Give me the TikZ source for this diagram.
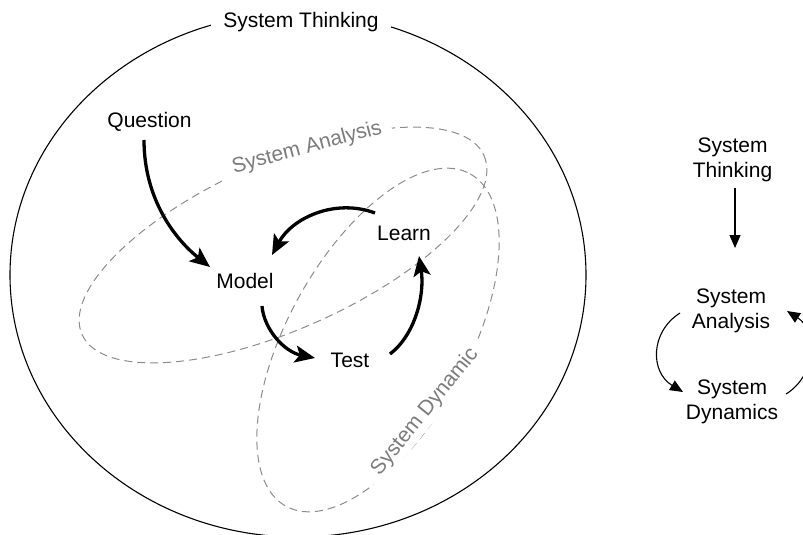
\documentclass[tikz,border=0pt]{standalone}
\usepackage{fontspec}
\setmainfont{Liberation Sans}
\usetikzlibrary{arrows.meta,calc}
\definecolor{textgrey}{HTML}{7C7C7C}
\definecolor{dashgrey}{HTML}{8C8C8C}
\begin{document}
\begin{tikzpicture}[x=1pt,y=-1pt,
  lbl/.style={font=\fontsize{21}{25}\selectfont, inner sep=0pt},
  greylbl/.style={lbl, text=textgrey, fill=white, inner xsep=10pt, inner ysep=3pt},
  bigarrow/.style={line width=3.3pt, -{Stealth[length=20pt,width=17pt,inset=4.5pt]}},
  thinarrow/.style={line width=1.1pt, -{Triangle[length=13pt,width=11pt]}},
  dashell/.style={draw=dashgrey, line width=1pt, dash pattern=on 8pt off 5pt},
  outline/.style={draw=black, line width=1.1pt},
]
\useasboundingbox (0,0) rectangle (803,535);
\clip (0,0) rectangle (803,535);

% outer system-thinking ellipse
\draw[outline] (298,275) ellipse [x radius=288, y radius=262];

% dashed ellipses
\draw[dashell, rotate around={24:(283,245)}] (283,245) ellipse [x radius=220, y radius=84];
\draw[dashell, rotate around={61:(378,340)}] (378,340) ellipse [x radius=190, y radius=90];

% labels on the ellipses
\node[lbl, fill=white, inner xsep=12pt, inner ysep=4pt, anchor=base] (st) at (301,28) {System Thinking};
\node[greylbl, rotate=15] (sal) at (307,148) {System Analysis};
\node[greylbl, rotate=51] (sdl) at (425,412) {System Dynamic};

% cycle nodes
\node[lbl, anchor=base] (q) at (149.5,127) {Question};
\node[lbl, anchor=base] (m) at (245,288) {Model};
\node[lbl, anchor=base] (l) at (404,240) {Learn};
\node[lbl, anchor=base] (t) at (350,367) {Test};

\draw[bigarrow] ([shift={(-5.5,13)}]q.base) .. controls +(0,60) and +(-34,-27) .. ([shift={(-35,-21)}]m.base);
\draw[bigarrow] ([shift={(-29,-27)}]l.base) .. controls +(-40,-15) and +(20,-37) .. ([shift={(27,-33)}]m.base);
\draw[bigarrow] ([shift={(17,18)}]m.base) .. controls +(2,24) and +(-30,-6) .. ([shift={(-35,-9)}]t.base);
\draw[bigarrow] ([shift={(40,-13)}]t.base) .. controls +(25,-19) and +(6,39) .. ([shift={(15,16)}]l.base);

% right-hand summary
\node[lbl, align=center, anchor=north] (rt) at (732.5,138) {System\\Thinking};
\node[lbl, align=center, anchor=north] (ra) at (731,289) {System\\Analysis};
\node[lbl, align=center, anchor=north] (rd) at (732,380) {System\\Dynamics};

\draw[thinarrow] ([shift={(2.5,6)}]rt.south) -- ([shift={(4,-41)}]ra.north);
\draw[thinarrow] ([shift={(-51,24)}]ra.north) .. controls +(-30,19) and +(-33,-20) .. ([shift={(-49,12)}]rd.north);
\draw[thinarrow] ([shift={(54,14)}]rd.north) .. controls +(31,-19) and +(30,19) .. ([shift={(56,22)}]ra.north);
\end{tikzpicture}
\end{document}
